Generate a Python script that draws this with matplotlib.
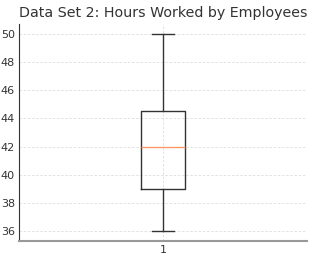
import matplotlib
matplotlib.use("Agg")
import matplotlib.pyplot as plt

# box statistics
label = "1"
whislo = 36
q1 = 39
med = 42
q3 = 44.5
whishi = 50

stats = [{"label": label, "whislo": whislo, "q1": q1, "med": med, "q3": q3,
          "whishi": whishi, "fliers": []}]

fig, ax = plt.subplots(figsize=(3.22, 2.6), dpi=100)
ax.bxp(stats, widths=0.15,
       boxprops=dict(color="#333333", linewidth=1),
       whiskerprops=dict(color="#333333", linewidth=1),
       capprops=dict(color="#333333", linewidth=1),
       medianprops=dict(color="#ff9966", linewidth=1))
ax.set_ylim(35.3, 50.7)
ax.set_yticks([36, 38, 40, 42, 44, 46, 48, 50])
ax.grid(True, linestyle=(0, (3, 2)), color="#dddddd", linewidth=0.6)
ax.set_axisbelow(True)
ax.spines["top"].set_visible(False)
ax.spines["right"].set_visible(False)
ax.spines["left"].set_color("#333333")
ax.spines["bottom"].set_color("#999999")
ax.spines["bottom"].set_linewidth(1.5)
ax.tick_params(length=0, labelsize=8, colors="#333333", pad=3)
ax.set_title("Data Set 2: Hours Worked by Employees", fontsize=10.3, color="#333333", pad=5)
fig.subplots_adjust(left=0.059, right=0.953, top=0.908, bottom=0.073)
fig.savefig("out.png", dpi=100)
